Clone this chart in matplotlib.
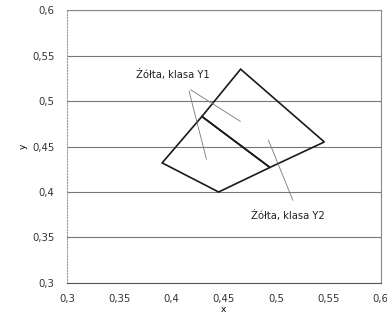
# Żółta, klasa Y1 / Y2 - obszary barwy na wykresie x-y
import matplotlib.pyplot as plt
from matplotlib.ticker import FuncFormatter

# wierzchołki obszaru Y1
y1_x = [0.391, 0.429, 0.494, 0.445]
y1_y = [0.432, 0.483, 0.427, 0.400]
# wierzchołki obszaru Y2
y2_x = [0.429, 0.466, 0.546, 0.494]
y2_y = [0.483, 0.535, 0.455, 0.427]

ticks_x = [0.3, 0.35, 0.4, 0.45, 0.5, 0.55, 0.6]
ticks_y = [0.3, 0.35, 0.4, 0.45, 0.5, 0.55, 0.6]

fig = plt.figure(figsize=(3.87, 3.15), dpi=100)
ax = fig.add_axes([0.173, 0.1016, 0.811, 0.8666])

for xs, ys in [(y1_x, y1_y), (y2_x, y2_y)]:
    ax.fill(xs, ys, facecolor='none', edgecolor='#1a1a1a', lw=1.2, zorder=3)

# opisy z liniami odniesienia
line = dict(arrowstyle='-', color='#777777', lw=0.6)
ax.annotate('', xy=(0.468, 0.476), xytext=(0.416, 0.514), arrowprops=line)
ax.annotate('', xy=(0.434, 0.433), xytext=(0.416, 0.514), arrowprops=line)
ax.text(0.401, 0.529, 'Żółta, klasa Y1', fontsize=7.2, ha='center', va='center', color='#222222')
ax.annotate('', xy=(0.517, 0.388), xytext=(0.4915, 0.460), arrowprops=line)
ax.text(0.511, 0.374, 'Żółta, klasa Y2', fontsize=7.2, ha='center', va='center', color='#222222')

ax.set_xlim(0.3, 0.6)
ax.set_ylim(0.3, 0.6)
ax.set_xticks(ticks_x)
ax.set_yticks(ticks_y)
fmt = FuncFormatter(lambda v, p: ('%g' % round(v, 2)).replace('.', ','))
ax.xaxis.set_major_formatter(fmt)
ax.yaxis.set_major_formatter(fmt)
ax.tick_params(labelsize=7.3, length=0, colors='#333333')
ax.tick_params(axis='y', pad=9)
ax.tick_params(axis='x', pad=8)
ax.grid(axis='y', color='#777777', lw=0.8)
ax.set_axisbelow(True)
ax.spines['left'].set_linestyle(':')
ax.spines['left'].set_color('#999999')
ax.spines['right'].set_color('#888888')
ax.spines['top'].set_color('#888888')
ax.spines['bottom'].set_color('#555555')
for s in ax.spines.values():
    s.set_linewidth(0.8)
ax.set_xlabel('x', fontsize=6.5, labelpad=1)
ax.set_ylabel('y', fontsize=6.5, labelpad=3)

fig.savefig('out.png', dpi=100)
